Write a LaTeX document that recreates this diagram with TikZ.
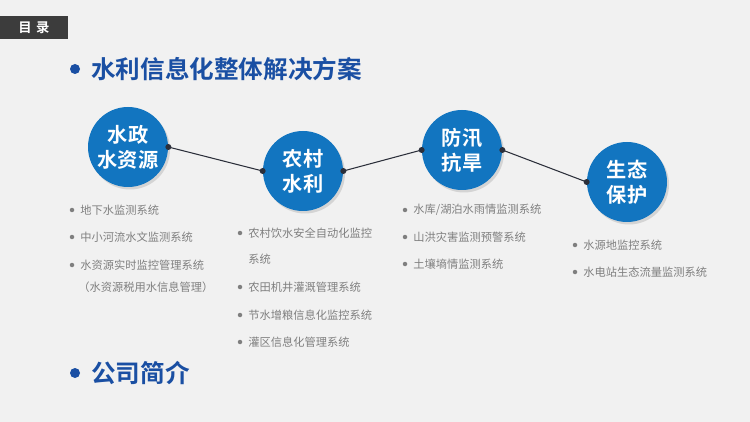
\documentclass[tikz,border=0pt]{standalone}
\usepackage{fontspec}
\usepackage{xcolor}
\newfontfamily\cjk{Noto Sans CJK SC}[BoldFont={Noto Sans CJK SC Bold}]
\usetikzlibrary{positioning,shadows}
\definecolor{bgGray}{HTML}{F1F1F1}
\definecolor{headGray}{HTML}{3C3C3C}
\definecolor{titleBlue}{HTML}{1A4FA3}
\definecolor{ballBlue}{HTML}{1275C0}
\definecolor{wireDark}{HTML}{2B2F3A}
\definecolor{itemGray}{HTML}{7F7F7F}
\tikzset{
	ball/.style={circle,fill=ballBlue,minimum size=80*0.02cm,inner sep=0pt,
		text=white,align=center,font=\cjk\bfseries\fontsize{11.5}{14.2}\selectfont,
		drop shadow={shadow xshift=0.04cm,shadow yshift=-0.05cm,opacity=0.25}},
	heading/.style={anchor=west,text=titleBlue,font=\cjk\bfseries\fontsize{14}{16}\selectfont,inner sep=0pt},
	item/.style={anchor=west,text=itemGray,font=\cjk\fontsize{6.4}{8}\selectfont,inner sep=0pt},
	pin/.style={circle,fill=wireDark,inner sep=0pt,minimum size=0.12cm},
	dot/.style={circle,fill=itemGray,inner sep=0pt,minimum size=0.09cm}
}
\begin{document}
\begin{tikzpicture}[x=0.02cm,y=-0.02cm]
		\useasboundingbox[fill=bgGray] (0,0) rectangle (750,422);
		%
		\fill[headGray] (0,16) rectangle (68,39);
		\node[text=white,font=\cjk\bfseries\fontsize{7.6}{9}\selectfont] (head) at (34,27.5) {目\,\,录};
		%
		\fill[titleBlue] (75,69) circle (5);
		\node[heading] (title) at (91,69) {水利信息化整体解决方案};
		\fill[titleBlue] (75,373) circle (5);
		\node[heading] (company) at (91,373) {公司简介};
		%
		\node[ball] (water) at (128,147) {水政\\水资源};
		\node[ball] (rural) at (303,171) {农村\\水利};
		\node[ball] (flood) at (462,150) {防汛\\抗旱};
		\node[ball] (eco) at (627,182) {生态\\保护};
		%
		\path[draw=wireDark,line width=0.6pt]
		(water.east) -- (rural.west)
		(rural.east) -- (flood.west)
		(flood.east) -- (eco.west);
		\foreach \a/\b in {water/rural,rural/flood,flood/eco}{
			\node[pin] at (\a.east) {};
			\node[pin] at (\b.west) {};
		}
		%
		\node[dot] at (72,210) {}; \node[item] (w1) at (80,210) {地下水监测系统};
		\node[dot] at (72,237) {}; \node[item] (w2) at (80,237) {中小河流水文监测系统};
		\node[dot] at (72,265) {}; \node[item] (w3) at (80,265) {水资源实时监控管理系统};
		\node[item] (w4) at (78,287) {（水资源税用水信息管理）};
		%
		\node[dot] at (240,233) {}; \node[item] (r1) at (248,233) {农村饮水安全自动化监控};
		\node[item] (r2) at (248,259) {系统};
		\node[dot] at (240,287) {}; \node[item] (r3) at (248,287) {农田机井灌溉管理系统};
		\node[dot] at (240,315) {}; \node[item] (r4) at (248,315) {节水增粮信息化监控系统};
		\node[dot] at (240,342) {}; \node[item] (r5) at (248,342) {灌区信息化管理系统};
		%
		\node[dot] at (405,210) {}; \node[item] (f1) at (413,210) {水库/湖泊水雨情监测系统};
		\node[dot] at (405,237) {}; \node[item] (f2) at (413,237) {山洪灾害监测预警系统};
		\node[dot] at (405,264) {}; \node[item] (f3) at (413,264) {土壤墒情监测系统};
		%
		\node[dot] at (575,245) {}; \node[item] (e1) at (583,245) {水源地监控系统};
		\node[dot] at (575,272) {}; \node[item] (e2) at (583,272) {水电站生态流量监测系统};
	\end{tikzpicture}
\end{document}
